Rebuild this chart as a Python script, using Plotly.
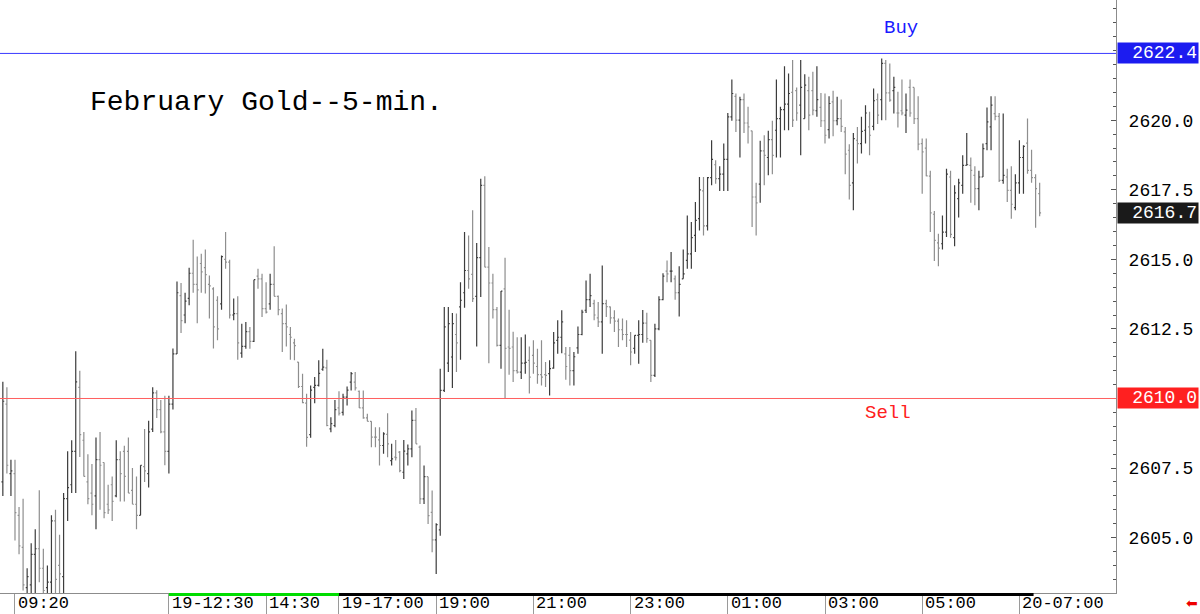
import plotly.graph_objects as go

# ---------------- data (5-min bars, index 0 = 09:05) ----------------
open_ = [
    2607.0, 2609.8, 2607.3, 2607.3, 2605.8, 2604.65, 2603.2, 2603.3, 2604.4, 2604.6,
    2603.9, 2603.2, 2603.4, 2605.6, 2604.0, 2603.6, 2606.4, 2606.9, 2608.1, 2610.4,
    2608.5, 2607.0, 2606.6, 2606.5, 2607.8, 2607.7, 2606.2, 2606.9, 2606.5, 2607.8,
    2608.1, 2608.1, 2606.7, 2606.2, 2605.8, 2607.55, 2607.3, 2608.9, 2610.2, 2609.6,
    2608.8, 2608.1, 2609.8, 2611.6, 2613.7, 2613.0, 2613.6, 2614.5, 2614.1, 2614.85,
    2614.7, 2614.1, 2613.94, 2613.53, 2613.4, 2615.0, 2614.9, 2613.0, 2613.05, 2611.63,
    2611.87, 2612.4, 2612.05, 2614.4, 2614.3, 2613.23, 2613.4, 2614.1, 2613.67, 2613.05,
    2612.69, 2612.3, 2612.0, 2611.31, 2610.43, 2609.83, 2608.7, 2610.4, 2610.47, 2611.05,
    2611.1, 2608.91, 2609.03, 2609.66, 2609.5, 2610.05, 2610.59, 2610.59, 2610.26, 2609.66,
    2609.3, 2609.18, 2608.61, 2608.51, 2608.31, 2608.71, 2607.77, 2607.89, 2608.07, 2607.35,
    2608.01, 2608.19, 2609.21, 2608.25, 2606.39, 2607.19, 2605.91, 2604.92, 2605.28, 2610.29,
    2611.27, 2611.49, 2612.3, 2613.29, 2613.8, 2614.6, 2614.46, 2613.67, 2615.06, 2617.66,
    2614.72, 2614.15, 2613.19, 2611.91, 2613.94, 2611.85, 2611.85, 2611.0, 2610.95, 2611.27,
    2611.37, 2611.55, 2611.15, 2610.86, 2610.86, 2610.89, 2611.09, 2612.09, 2612.2, 2611.6,
    2611.55, 2611.0, 2611.82, 2612.3, 2613.17, 2613.55, 2613.41, 2612.9, 2612.75, 2613.41,
    2613.29, 2612.9, 2612.78, 2612.47, 2612.3, 2612.1, 2611.8, 2612.27, 2612.3, 2612.71,
    2612.09, 2610.83, 2612.5, 2613.55, 2614.58, 2614.58, 2614.3, 2613.8, 2614.3, 2614.96,
    2615.2, 2615.86, 2616.46, 2617.46, 2616.2, 2617.94, 2618.4, 2617.9, 2618.06, 2618.59,
    2620.12, 2620.86, 2620.0, 2620.74, 2619.9, 2619.62, 2617.24, 2617.7, 2618.9, 2618.66,
    2619.3, 2619.64, 2620.06, 2620.38, 2620.58, 2621.0, 2621.06, 2620.54, 2620.06, 2621.06,
    2621.06, 2620.34, 2620.46, 2619.98, 2619.66, 2620.66, 2619.98, 2620.06, 2619.58, 2618.92,
    2617.75, 2619.28, 2619.16, 2619.64, 2619.76, 2619.78, 2620.74, 2620.74, 2622.04, 2620.98,
    2621.06, 2620.26, 2620.34, 2620.18, 2621.18, 2621.18, 2620.06, 2619.16, 2619.0, 2617.99,
    2616.62, 2615.59, 2615.56, 2615.98, 2617.96, 2615.78, 2617.18, 2617.66, 2618.38, 2618.38,
    2618.02, 2617.54, 2617.96, 2619.16, 2619.76, 2620.24, 2620.14, 2617.84, 2617.96, 2617.48,
    2616.86, 2617.75, 2618.66, 2619.18, 2618.2, 2617.94, 2617.36,
]
high = [
    2610.6, 2610.4, 2607.8, 2607.8, 2606.1, 2606.4, 2603.9, 2604.8, 2605.3, 2606.7,
    2604.6, 2604.0, 2605.8, 2606.0, 2605.1, 2606.6, 2608.1, 2608.5, 2611.7, 2611.0,
    2608.8, 2608.0, 2607.65, 2608.6, 2608.8, 2607.7, 2606.9, 2607.2, 2608.5, 2608.1,
    2608.3, 2608.6, 2607.5, 2607.2, 2607.6, 2608.9, 2609.2, 2610.4, 2610.3, 2609.95,
    2610.1, 2610.1, 2611.8, 2614.2, 2614.15, 2613.8, 2614.7, 2615.7, 2615.1, 2615.2,
    2615.35, 2614.42, 2614.0, 2613.67, 2615.14, 2615.98, 2614.99, 2613.59, 2613.67, 2612.69,
    2612.75, 2612.57, 2614.27, 2614.66, 2614.48, 2614.18, 2614.48, 2615.47, 2613.7, 2613.23,
    2613.38, 2612.57, 2612.15, 2611.31, 2610.89, 2610.17, 2610.47, 2610.77, 2611.37, 2611.79,
    2611.39, 2609.33, 2609.95, 2610.26, 2610.17, 2610.43, 2610.95, 2610.95, 2610.29, 2610.29,
    2609.45, 2609.18, 2608.97, 2608.97, 2608.79, 2609.47, 2608.37, 2608.51, 2608.11, 2608.51,
    2608.35, 2609.57, 2609.66, 2608.31, 2607.59, 2607.19, 2606.69, 2605.52, 2611.07, 2613.29,
    2613.29, 2613.07, 2613.05, 2614.18, 2615.98, 2615.86, 2616.76, 2615.59, 2617.9, 2617.99,
    2615.44, 2614.48, 2613.29, 2613.86, 2615.06, 2613.19, 2612.4, 2612.2, 2612.2, 2612.3,
    2611.87, 2612.09, 2611.79, 2612.09, 2611.31, 2611.37, 2612.39, 2612.81, 2613.17, 2611.85,
    2611.85, 2611.67, 2612.59, 2613.19, 2614.24, 2614.48, 2613.55, 2613.47, 2614.78, 2613.55,
    2613.31, 2613.17, 2612.87, 2612.87, 2612.81, 2612.39, 2612.27, 2612.81, 2613.18, 2613.08,
    2612.09, 2612.69, 2613.67, 2614.5, 2614.96, 2615.26, 2614.42, 2614.75, 2615.35, 2616.58,
    2616.34, 2617.06, 2617.96, 2617.96, 2617.96, 2619.28, 2618.56, 2618.35, 2619.16, 2620.26,
    2621.46, 2620.96, 2620.84, 2620.96, 2620.48, 2619.62, 2617.75, 2619.26, 2619.46, 2619.62,
    2619.98, 2621.46, 2620.48, 2621.94, 2621.68, 2622.16, 2621.18, 2622.16, 2621.65, 2621.56,
    2621.74, 2621.94, 2620.98, 2620.96, 2620.86, 2621.06, 2620.84, 2620.74, 2619.76, 2619.14,
    2619.54, 2619.76, 2620.12, 2620.54, 2620.3, 2621.14, 2620.96, 2622.22, 2622.16, 2622.04,
    2621.56, 2621.02, 2621.46, 2620.96, 2621.46, 2621.18, 2620.86, 2619.34, 2619.34, 2618.18,
    2616.74, 2615.92, 2616.58, 2618.26, 2618.18, 2617.66, 2617.9, 2618.74, 2619.54, 2618.66,
    2618.35, 2618.18, 2619.16, 2620.46, 2620.86, 2620.86, 2620.26, 2620.24, 2618.26, 2618.35,
    2618.06, 2619.28, 2619.1, 2620.06, 2618.94, 2618.06, 2617.75,
]
low = [
    2606.5, 2607.3, 2606.5, 2604.9, 2604.4, 2603.1, 2602.8, 2602.8, 2602.8, 2603.4,
    2602.8, 2602.8, 2602.8, 2602.8, 2603.0, 2603.0, 2605.6, 2606.6, 2606.6, 2607.9,
    2607.2, 2606.2, 2605.8, 2605.3, 2606.0, 2605.7, 2605.85, 2605.6, 2606.45, 2606.3,
    2606.3, 2606.6, 2606.2, 2605.3, 2605.8, 2607.0, 2606.8, 2608.8, 2609.3, 2608.75,
    2607.6, 2607.3, 2609.6, 2611.6, 2612.35, 2612.7, 2613.35, 2613.8, 2612.7, 2613.8,
    2613.77, 2612.87, 2611.8, 2612.09, 2613.19, 2614.66, 2612.87, 2612.81, 2611.39, 2611.46,
    2611.79, 2611.79, 2612.03, 2613.94, 2612.93, 2613.05, 2613.19, 2613.67, 2612.99, 2611.67,
    2611.87, 2611.39, 2611.37, 2610.38, 2609.83, 2608.27, 2608.59, 2609.83, 2610.43, 2611.0,
    2609.0, 2608.79, 2608.97, 2609.39, 2609.39, 2609.75, 2610.29, 2610.29, 2609.66, 2609.27,
    2609.18, 2608.25, 2608.25, 2607.59, 2608.01, 2607.89, 2607.59, 2607.77, 2607.35, 2607.11,
    2607.59, 2607.89, 2608.37, 2606.21, 2606.21, 2605.49, 2604.47, 2603.69, 2605.07, 2610.23,
    2610.95, 2610.38, 2610.95, 2611.39, 2613.26, 2613.94, 2613.47, 2611.87, 2613.65, 2614.72,
    2611.27, 2612.87, 2611.87, 2611.07, 2610.0, 2610.85, 2610.59, 2610.9, 2610.7, 2610.89,
    2610.18, 2610.89, 2610.53, 2610.47, 2610.41, 2610.11, 2611.07, 2611.61, 2611.63, 2610.67,
    2610.47, 2610.47, 2611.61, 2612.27, 2613.07, 2613.29, 2612.81, 2612.57, 2611.61, 2612.93,
    2612.69, 2612.39, 2611.85, 2612.09, 2611.85, 2611.19, 2611.61, 2611.25, 2612.0, 2612.0,
    2610.59, 2610.77, 2612.45, 2613.53, 2614.18, 2614.18, 2613.55, 2612.95, 2614.3, 2614.66,
    2614.66, 2615.26, 2616.04, 2615.86, 2616.04, 2617.66, 2617.72, 2617.46, 2617.46, 2617.46,
    2619.98, 2619.58, 2618.66, 2619.54, 2619.16, 2616.16, 2615.86, 2617.03, 2617.66, 2618.02,
    2618.06, 2618.66, 2618.66, 2619.64, 2619.64, 2619.76, 2619.98, 2618.74, 2620.06, 2619.64,
    2620.18, 2620.12, 2619.76, 2619.16, 2619.34, 2619.42, 2619.82, 2619.58, 2618.06, 2617.15,
    2616.76, 2618.44, 2618.8, 2619.16, 2618.74, 2619.64, 2619.86, 2620.0, 2620.0, 2620.66,
    2620.24, 2619.74, 2620.18, 2619.54, 2620.12, 2619.86, 2618.92, 2617.36, 2617.99, 2615.98,
    2614.94, 2614.75, 2615.35, 2615.8, 2615.78, 2615.47, 2616.5, 2617.36, 2618.38, 2617.03,
    2616.94, 2616.76, 2617.96, 2618.92, 2618.92, 2620.0, 2617.78, 2617.72, 2617.06, 2616.46,
    2616.76, 2617.36, 2617.36, 2618.08, 2617.75, 2616.14, 2616.55,
]
close = [
    2609.9, 2607.6, 2607.4, 2605.9, 2604.7, 2603.3, 2603.6, 2604.4, 2604.6, 2603.9,
    2603.1, 2603.4, 2605.6, 2603.5, 2603.7, 2606.4, 2606.8, 2608.1, 2610.6, 2608.7,
    2607.2, 2606.4, 2606.2, 2607.8, 2607.6, 2605.9, 2606.0, 2606.3, 2607.8, 2607.3,
    2607.2, 2606.6, 2606.2, 2605.8, 2607.6, 2607.4, 2608.8, 2610.2, 2609.6, 2608.8,
    2608.1, 2609.8, 2611.6, 2613.8, 2612.8, 2613.5, 2614.5, 2614.1, 2613.9, 2614.55,
    2614.45, 2614.05, 2612.57, 2612.5, 2615.1, 2614.9, 2613.0, 2613.05, 2612.0, 2611.87,
    2612.4, 2612.05, 2614.27, 2614.3, 2613.23, 2613.1, 2614.1, 2613.67, 2613.19, 2612.69,
    2612.57, 2612.2, 2611.9, 2610.43, 2609.85, 2608.6, 2610.3, 2610.47, 2610.9, 2611.13,
    2609.03, 2609.1, 2609.6, 2609.47, 2610.05, 2610.3, 2610.89, 2610.38, 2609.66, 2609.3,
    2609.18, 2608.61, 2608.61, 2608.31, 2608.73, 2608.37, 2607.83, 2607.87, 2607.41, 2608.11,
    2608.19, 2609.21, 2608.37, 2606.39, 2607.19, 2605.79, 2604.92, 2605.47, 2610.29, 2612.57,
    2612.69, 2612.69, 2612.0, 2613.53, 2614.6, 2614.3, 2613.59, 2615.06, 2617.66, 2614.72,
    2614.15, 2613.19, 2611.91, 2613.86, 2611.8, 2611.8, 2611.0, 2610.95, 2611.27, 2611.3,
    2610.77, 2611.27, 2610.86, 2610.77, 2610.83, 2611.07, 2612.0, 2612.2, 2612.75, 2611.15,
    2611.0, 2611.5, 2612.3, 2613.1, 2613.55, 2613.7, 2613.0, 2612.75, 2613.41, 2613.3,
    2612.9, 2612.78, 2612.47, 2612.3, 2612.3, 2611.67, 2612.27, 2612.3, 2612.71, 2612.15,
    2610.83, 2612.5, 2613.55, 2614.4, 2614.48, 2614.58, 2613.8, 2614.1, 2614.48, 2615.2,
    2615.78, 2616.4, 2617.5, 2616.2, 2617.94, 2618.59, 2617.9, 2618.06, 2618.59, 2620.12,
    2620.96, 2620.0, 2620.74, 2619.9, 2619.76, 2617.24, 2617.03, 2618.9, 2618.74, 2619.3,
    2618.74, 2620.06, 2620.38, 2620.58, 2620.96, 2620.0, 2620.26, 2621.18, 2621.26, 2620.18,
    2620.36, 2620.74, 2619.98, 2619.46, 2620.6, 2619.98, 2620.06, 2619.78, 2618.78, 2617.66,
    2619.34, 2619.16, 2619.6, 2620.26, 2619.46, 2620.7, 2620.18, 2622.04, 2620.98, 2620.72,
    2621.18, 2620.26, 2620.26, 2620.36, 2620.26, 2620.06, 2619.14, 2618.86, 2618.0, 2616.67,
    2615.68, 2615.4, 2615.98, 2618.06, 2615.9, 2617.39, 2617.75, 2618.38, 2618.4, 2618.2,
    2617.54, 2617.96, 2618.98, 2619.94, 2620.54, 2620.14, 2617.84, 2618.02, 2617.48, 2616.98,
    2617.75, 2618.66, 2619.06, 2618.2, 2617.94, 2617.54, 2616.67,
]
bar_index = list(range(len(close)))

# time-axis labels (bar index -> label)
label_index = [3, 41, 65, 83, 107, 131, 155, 179, 203, 227, 251]
label_text = ["09:20", "19-12:30", "14:30", "19-17:00", "19:00", "21:00",
              "23:00", "01:00", "03:00", "05:00", "20-07:00"]

# price-axis labels that stay visible (the others sit under the level boxes)
price_ticks = [2605.0, 2607.5, 2612.5, 2615.0, 2617.5, 2620.0]

# session marks on the time axis (bar-index spans)
day_session = [41, 83]
night_session = [83, 254.5]

buy_level = 2622.4
sell_level = 2610.0
last_price = close[-1]

MONO = "Liberation Mono, DejaVu Sans Mono, monospace"

fig = go.Figure(
    go.Ohlc(
        x=bar_index, open=open_, high=high, low=low, close=close,
        increasing=dict(line=dict(color="#3c3c3c", width=1.2)),
        decreasing=dict(line=dict(color="#8e8e8e", width=1.2)),
        tickwidth=0.35,
        hoverinfo="skip",
    )
)

shapes = [
    dict(type="line", xref="paper", x0=0, x1=1, yref="y", y0=buy_level, y1=buy_level,
         line=dict(color="#3a3aff", width=1)),
    dict(type="line", xref="paper", x0=0, x1=1, yref="y", y0=sell_level, y1=sell_level,
         line=dict(color="#ff6060", width=1)),
    dict(type="line", xref="x", x0=day_session[0], x1=day_session[1],
         yref="paper", ysizemode="pixel", yanchor=0, y0=-1.5, y1=-1.5,
         line=dict(color="#00dd00", width=3)),
    dict(type="line", xref="x", x0=night_session[0], x1=night_session[1],
         yref="paper", ysizemode="pixel", yanchor=0, y0=-1.5, y1=-1.5,
         line=dict(color="#000000", width=3)),
]

annotations = [
    dict(text="February Gold--5-min.", xref="paper", yref="paper",
         x=88 / 1116, y=(593 - 103) / 593, xanchor="left", yanchor="middle",
         showarrow=False, font=dict(family=MONO, size=28, color="#000000")),
    dict(text="Buy", xref="paper", yref="paper", x=901 / 1116, y=(593 - 28) / 593,
         xanchor="center", yanchor="middle", showarrow=False,
         font=dict(family=MONO, size=19, color="#1a1aff")),
    dict(text="Sell", xref="paper", yref="paper", x=888 / 1116, y=(593 - 413) / 593,
         xanchor="center", yanchor="middle", showarrow=False,
         font=dict(family=MONO, size=19, color="#ff2020")),
]

for lvl, bg in [(buy_level, "#1c1cf0"), (sell_level, "#ff2020"), (last_price, "#1a1a1a")]:
    annotations.append(dict(
        text=f"{lvl:.1f}", xref="paper", yref="y", x=1, y=lvl, xshift=1,
        xanchor="left", yanchor="middle", showarrow=False, align="right",
        width=78, height=18, borderpad=1, bgcolor=bg,
        font=dict(family=MONO, size=18, color="#ffffff")))

for idx, txt in zip(label_index, label_text):
    annotations.append(dict(
        text=txt, xref="x", yref="paper", x=idx, y=0, xshift=1, yshift=1,
        xanchor="left", yanchor="top", showarrow=False,
        font=dict(family=MONO, size=17, color="#000000")))

annotations.append(dict(
    text="⬅", xref="paper", yref="paper", x=1192 / 1116, y=(593 - 603) / 593,
    xanchor="center", yanchor="middle", showarrow=False,
    font=dict(family="DejaVu Sans", size=14, color="#ee0000")))

fig.update_layout(
    width=1200, height=614,
    margin=dict(l=0, r=84, t=0, b=21),
    paper_bgcolor="#ffffff", plot_bgcolor="#ffffff",
    showlegend=False, hovermode=False,
    shapes=shapes, annotations=annotations,
    xaxis=dict(
        range=[-0.70, 274.85], rangeslider=dict(visible=False),
        showgrid=False, zeroline=False, showline=True, linecolor="#8c8c8c", linewidth=1,
        tickmode="array", tickvals=label_index, ticktext=[""] * len(label_index),
        ticks="outside", ticklen=21, tickcolor="#9a9a9a", tickwidth=1,
        showticklabels=False,
    ),
    yaxis=dict(
        side="right", range=[2603.01, 2624.32],
        showgrid=False, zeroline=False, showline=True, linecolor="#8c8c8c", linewidth=1,
        tickmode="array", tickvals=price_ticks, tickformat=".1f",
        ticks="inside", ticklen=5, tickcolor="#555555",
        minor=dict(dtick=0.5, tick0=2600, ticks="inside", ticklen=3, tickcolor="#555555"),
        tickfont=dict(family=MONO, size=18, color="#000000"),
        ticklabelstandoff=8,
    ),
)

fig.write_html("out.html")
